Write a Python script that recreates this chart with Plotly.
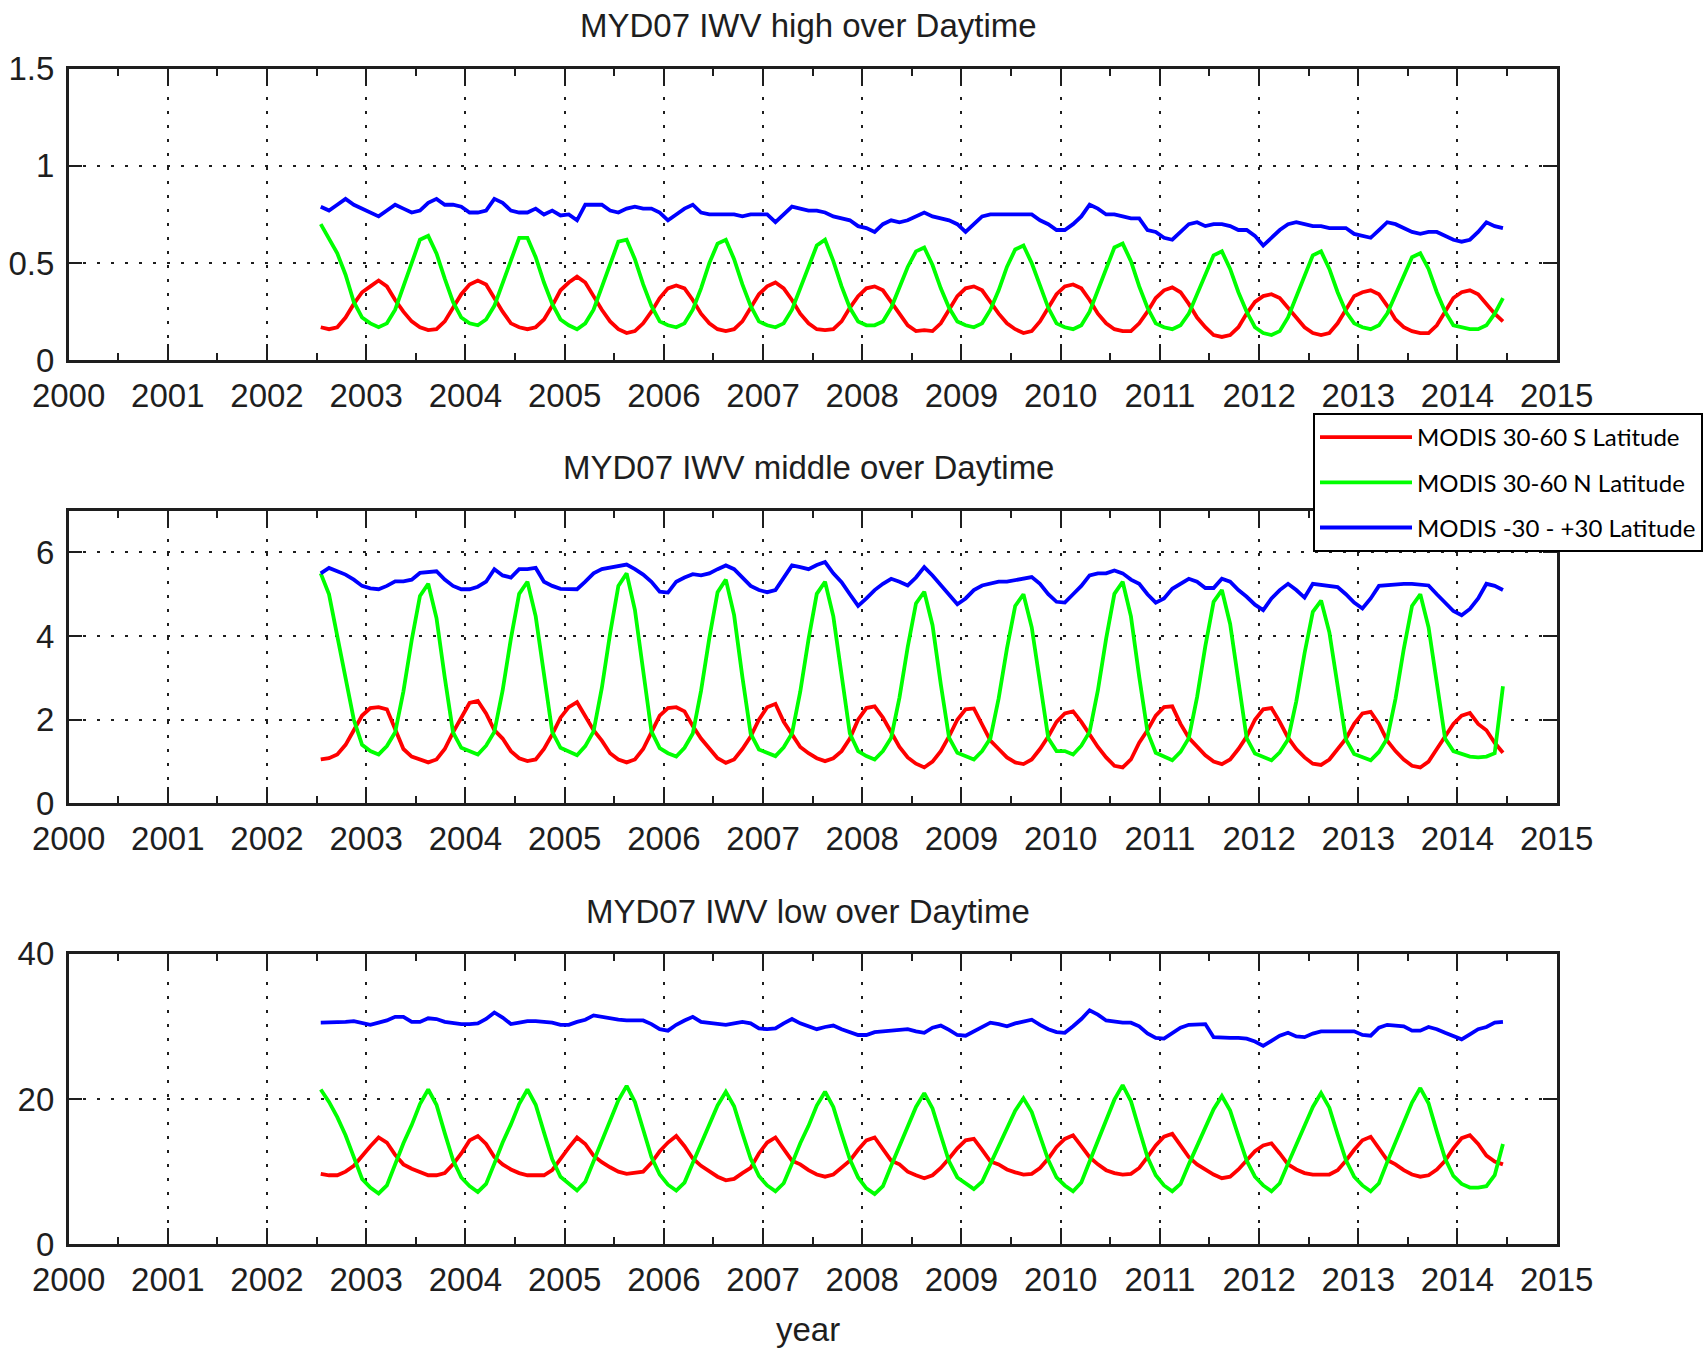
import plotly.graph_objects as go

# ---------------- data ----------------
# monthly means, Jul 2002 .. Jun 2014 (decimal year at mid-month)
START_YEAR, START_MONTH, N_MONTHS = 2002, 7, 144
months = [START_YEAR + (START_MONTH - 1 + i + 0.5) / 12 for i in range(N_MONTHS)]

series_names = ["MODIS 30-60 S Latitude", "MODIS 30-60 N Latitude", "MODIS -30 - +30 Latitude"]
series_colors = ["#ff0000", "#00ff00", "#0000ff"]
panel_titles = ["MYD07 IWV high over Daytime", "MYD07 IWV middle over Daytime", "MYD07 IWV low over Daytime"]
year_ticks = list(range(2000, 2016))

# ---- high ----
high_south = [
    0.17, 0.16, 0.17, 0.22, 0.29, 0.35,
    0.38, 0.41, 0.38, 0.31, 0.25, 0.20, 0.17, 0.155, 0.16, 0.20, 0.27, 0.34,
    0.39, 0.41, 0.39, 0.32, 0.25, 0.19, 0.17, 0.16, 0.17, 0.21, 0.28, 0.36,
    0.40, 0.43, 0.40, 0.33, 0.26, 0.20, 0.16, 0.14, 0.15, 0.19, 0.25, 0.32,
    0.37, 0.385, 0.37, 0.31, 0.24, 0.19, 0.16, 0.15, 0.16, 0.20, 0.27, 0.34,
    0.38, 0.40, 0.37, 0.31, 0.24, 0.19, 0.16, 0.155, 0.16, 0.20, 0.27, 0.33,
    0.37, 0.38, 0.36, 0.30, 0.24, 0.18, 0.15, 0.155, 0.15, 0.19, 0.26, 0.33,
    0.37, 0.38, 0.36, 0.30, 0.24, 0.19, 0.16, 0.14, 0.15, 0.20, 0.27, 0.34,
    0.38, 0.39, 0.37, 0.31, 0.24, 0.19, 0.16, 0.15, 0.15, 0.19, 0.25, 0.32,
    0.36, 0.375, 0.35, 0.29, 0.22, 0.17, 0.13, 0.12, 0.13, 0.17, 0.24, 0.30,
    0.33, 0.34, 0.32, 0.27, 0.22, 0.17, 0.14, 0.13, 0.14, 0.19, 0.26, 0.33,
    0.35, 0.36, 0.34, 0.28, 0.21, 0.17, 0.15, 0.14, 0.14, 0.18, 0.25, 0.32,
    0.35, 0.36, 0.34, 0.29, 0.24, 0.20,
]
high_north = [
    0.70, 0.62, 0.55, 0.44, 0.30, 0.22,
    0.19, 0.17, 0.19, 0.26, 0.38, 0.51, 0.62, 0.64, 0.55, 0.42, 0.30, 0.22,
    0.19, 0.18, 0.21, 0.28, 0.40, 0.52, 0.63, 0.63, 0.53, 0.40, 0.29, 0.21,
    0.18, 0.16, 0.19, 0.26, 0.38, 0.50, 0.61, 0.62, 0.52, 0.39, 0.28, 0.20,
    0.18, 0.17, 0.19, 0.26, 0.37, 0.50, 0.60, 0.62, 0.52, 0.39, 0.28, 0.20,
    0.18, 0.17, 0.19, 0.26, 0.37, 0.49, 0.59, 0.62, 0.51, 0.38, 0.27, 0.20,
    0.18, 0.18, 0.20, 0.27, 0.37, 0.48, 0.56, 0.58, 0.49, 0.37, 0.27, 0.20,
    0.18, 0.17, 0.19, 0.26, 0.36, 0.48, 0.57, 0.59, 0.50, 0.38, 0.27, 0.19,
    0.17, 0.16, 0.18, 0.25, 0.36, 0.48, 0.58, 0.60, 0.51, 0.38, 0.27, 0.19,
    0.17, 0.16, 0.18, 0.24, 0.34, 0.45, 0.54, 0.56, 0.47, 0.35, 0.25, 0.17,
    0.14, 0.13, 0.15, 0.22, 0.33, 0.44, 0.54, 0.56, 0.47, 0.35, 0.25, 0.19,
    0.17, 0.16, 0.18, 0.24, 0.34, 0.44, 0.53, 0.55, 0.47, 0.35, 0.25, 0.18,
    0.17, 0.16, 0.16, 0.18, 0.24, 0.32,
]
high_tropics = [
    0.79, 0.77, 0.80, 0.83, 0.80, 0.78,
    0.76, 0.74, 0.77, 0.80, 0.78, 0.76, 0.77, 0.81, 0.83, 0.80, 0.80, 0.79,
    0.76, 0.76, 0.77, 0.83, 0.81, 0.77, 0.76, 0.76, 0.78, 0.75, 0.77, 0.745,
    0.75, 0.72, 0.80, 0.80, 0.80, 0.77, 0.76, 0.78, 0.79, 0.78, 0.78, 0.76,
    0.72, 0.75, 0.78, 0.80, 0.76, 0.75, 0.75, 0.75, 0.75, 0.74, 0.75, 0.75,
    0.75, 0.71, 0.75, 0.79, 0.78, 0.77, 0.77, 0.76, 0.74, 0.73, 0.72, 0.69,
    0.68, 0.66, 0.70, 0.72, 0.71, 0.72, 0.74, 0.76, 0.74, 0.73, 0.72, 0.70,
    0.66, 0.70, 0.74, 0.75, 0.75, 0.75, 0.75, 0.75, 0.75, 0.72, 0.70, 0.67,
    0.67, 0.70, 0.74, 0.80, 0.78, 0.75, 0.75, 0.74, 0.73, 0.73, 0.67, 0.66,
    0.63, 0.62, 0.66, 0.70, 0.71, 0.69, 0.70, 0.70, 0.69, 0.67, 0.67, 0.64,
    0.59, 0.63, 0.67, 0.70, 0.71, 0.70, 0.69, 0.69, 0.68, 0.68, 0.68, 0.65,
    0.64, 0.63, 0.67, 0.71, 0.70, 0.68, 0.66, 0.65, 0.66, 0.66, 0.64, 0.62,
    0.61, 0.62, 0.66, 0.71, 0.69, 0.68,
]

# ---- middle ----
middle_south = [
    1.05, 1.08, 1.17, 1.40, 1.75, 2.10,
    2.28, 2.30, 2.25, 1.75, 1.30, 1.12, 1.05, 0.98, 1.05, 1.30, 1.70, 2.05,
    2.40, 2.45, 2.15, 1.75, 1.55, 1.25, 1.08, 1.01, 1.05, 1.30, 1.65, 2.05,
    2.30, 2.42, 2.10, 1.75, 1.50, 1.20, 1.05, 0.98, 1.05, 1.30, 1.70, 2.10,
    2.28, 2.30, 2.20, 1.85, 1.55, 1.30, 1.08, 0.97, 1.05, 1.30, 1.60, 2.00,
    2.30, 2.38, 1.95, 1.65, 1.35, 1.20, 1.08, 1.01, 1.08, 1.25, 1.55, 2.00,
    2.28, 2.32, 2.05, 1.70, 1.35, 1.10, 0.95, 0.86, 1.00, 1.25, 1.60, 2.00,
    2.25, 2.27, 1.90, 1.50, 1.30, 1.10, 0.98, 0.94, 1.05, 1.30, 1.60, 1.95,
    2.15, 2.20, 1.95, 1.65, 1.35, 1.10, 0.90, 0.86, 1.05, 1.45, 1.75, 2.10,
    2.30, 2.32, 1.90, 1.57, 1.35, 1.15, 1.00, 0.94, 1.05, 1.30, 1.60, 2.00,
    2.25, 2.28, 1.95, 1.57, 1.30, 1.10, 0.95, 0.92, 1.05, 1.30, 1.55, 1.90,
    2.15, 2.19, 1.90, 1.50, 1.25, 1.05, 0.90, 0.86, 1.00, 1.30, 1.60, 1.90,
    2.10, 2.16, 1.90, 1.75, 1.45, 1.21,
]
middle_north = [
    5.50, 5.00, 4.00, 3.00, 2.00, 1.40,
    1.25, 1.17, 1.37, 1.70, 2.68, 3.90, 4.96, 5.25, 4.43, 3.01, 1.70, 1.33,
    1.25, 1.17, 1.38, 1.71, 2.70, 3.94, 5.01, 5.30, 4.47, 3.03, 1.71, 1.33,
    1.24, 1.15, 1.37, 1.72, 2.76, 4.06, 5.20, 5.50, 4.63, 3.11, 1.72, 1.32,
    1.20, 1.12, 1.33, 1.67, 2.69, 3.95, 5.05, 5.35, 4.50, 3.02, 1.67, 1.29,
    1.21, 1.13, 1.34, 1.67, 2.67, 3.92, 5.01, 5.30, 4.47, 3.01, 1.67, 1.25,
    1.13, 1.05, 1.25, 1.57, 2.53, 3.74, 4.78, 5.06, 4.26, 2.85, 1.57, 1.21,
    1.13, 1.05, 1.25, 1.56, 2.51, 3.70, 4.72, 5.00, 4.21, 2.83, 1.56, 1.25,
    1.25, 1.17, 1.38, 1.71, 2.70, 3.94, 5.01, 5.30, 4.47, 3.03, 1.71, 1.21,
    1.11, 1.03, 1.23, 1.56, 2.54, 3.76, 4.82, 5.10, 4.29, 2.86, 1.56, 1.19,
    1.11, 1.03, 1.22, 1.53, 2.44, 3.59, 4.58, 4.85, 4.09, 2.75, 1.53, 1.18,
    1.11, 1.03, 1.23, 1.55, 2.50, 3.69, 4.72, 5.00, 4.21, 2.82, 1.55, 1.25,
    1.18, 1.12, 1.10, 1.12, 1.20, 2.80,
]
middle_tropics = [
    5.50, 5.63, 5.55, 5.47, 5.35, 5.20,
    5.14, 5.12, 5.20, 5.31, 5.31, 5.35, 5.51, 5.53, 5.55, 5.35, 5.20, 5.12,
    5.12, 5.18, 5.30, 5.60, 5.45, 5.40, 5.60, 5.60, 5.63, 5.30, 5.20, 5.13,
    5.12, 5.12, 5.30, 5.50, 5.60, 5.63, 5.68, 5.71, 5.60, 5.47, 5.30, 5.06,
    5.04, 5.30, 5.40, 5.48, 5.45, 5.50, 5.60, 5.69, 5.60, 5.40, 5.20, 5.10,
    5.05, 5.10, 5.40, 5.69, 5.65, 5.60, 5.70, 5.77, 5.50, 5.29, 5.00, 4.72,
    4.90, 5.10, 5.25, 5.37, 5.30, 5.21, 5.40, 5.65, 5.45, 5.21, 5.00, 4.76,
    4.90, 5.10, 5.21, 5.25, 5.30, 5.30, 5.33, 5.38, 5.41, 5.25, 5.00, 4.82,
    4.80, 5.00, 5.20, 5.45, 5.50, 5.50, 5.57, 5.50, 5.35, 5.25, 5.00, 4.80,
    4.90, 5.13, 5.25, 5.37, 5.30, 5.15, 5.15, 5.37, 5.30, 5.10, 4.94, 4.75,
    4.62, 4.90, 5.10, 5.25, 5.10, 4.92, 5.25, 5.22, 5.20, 5.17, 5.00, 4.80,
    4.66, 4.90, 5.20, 5.22, 5.23, 5.25, 5.25, 5.23, 5.21, 5.00, 4.80, 4.60,
    4.50, 4.65, 4.90, 5.25, 5.20, 5.10,
]

# ---- low ----
low_south = [
    9.7, 9.5, 9.5, 10.0, 10.8, 12.2,
    13.5, 14.7, 14.0, 12.3, 11.0, 10.4, 9.9, 9.5, 9.5, 9.8, 11.0, 12.5,
    14.3, 14.9, 13.8, 12.0, 11.0, 10.3, 9.8, 9.5, 9.5, 9.5, 10.2, 11.8,
    13.3, 14.7, 13.8, 12.2, 11.3, 10.6, 10.0, 9.7, 9.8, 10.0, 11.2, 12.8,
    14.0, 14.9, 13.5, 11.8, 10.8, 10.0, 9.3, 8.8, 9.0, 9.8, 10.5, 12.5,
    14.0, 14.7, 13.0, 11.5, 11.0, 10.2, 9.6, 9.3, 9.6, 10.5, 11.5, 13.0,
    14.3, 14.7, 13.0, 11.5, 11.0, 10.0, 9.5, 9.1, 9.5, 10.5, 11.8, 13.2,
    14.3, 14.5, 13.0, 11.4, 11.0, 10.3, 9.9, 9.6, 9.7, 10.5, 11.8, 13.4,
    14.5, 15.0, 13.5, 12.0, 11.0, 10.2, 9.8, 9.6, 9.7, 10.5, 12.0, 13.6,
    14.8, 15.2, 13.6, 12.0, 11.0, 10.3, 9.6, 9.1, 9.3, 10.3, 11.5, 12.8,
    13.6, 13.9, 12.5, 11.0, 10.3, 9.8, 9.6, 9.6, 9.6, 10.2, 11.5, 13.0,
    14.3, 14.8, 13.3, 11.6, 11.0, 10.2, 9.6, 9.3, 9.5, 10.3, 11.5, 13.2,
    14.6, 15.0, 13.8, 12.2, 11.4, 11.0,
]
low_north = [
    21.3, 19.6, 17.5, 15.0, 12.0, 9.0,
    7.8, 7.0, 8.1, 11.0, 13.9, 16.4, 19.3, 21.3, 19.2, 15.3, 11.6, 9.2,
    8.0, 7.2, 8.3, 11.1, 14.0, 16.5, 19.3, 21.3, 19.2, 15.4, 11.7, 9.3,
    8.3, 7.4, 8.6, 11.4, 14.3, 16.9, 19.8, 21.8, 19.6, 15.8, 12.0, 9.6,
    8.2, 7.4, 8.5, 11.2, 13.9, 16.4, 19.1, 21.0, 19.0, 15.3, 11.8, 9.4,
    8.1, 7.3, 8.4, 11.1, 13.9, 16.3, 19.1, 21.0, 18.9, 15.2, 11.7, 9.2,
    7.7, 6.9, 8.0, 10.8, 13.6, 16.1, 18.9, 20.8, 18.7, 15.0, 11.4, 9.2,
    8.4, 7.6, 8.6, 11.1, 13.6, 15.9, 18.4, 20.1, 18.2, 14.9, 11.6, 9.2,
    8.1, 7.3, 8.5, 11.4, 14.3, 16.9, 19.9, 21.9, 19.7, 15.8, 12.0, 9.5,
    8.1, 7.3, 8.3, 11.0, 13.6, 16.0, 18.6, 20.4, 18.4, 14.9, 11.5, 9.3,
    8.1, 7.3, 8.4, 11.1, 13.8, 16.2, 18.9, 20.8, 18.8, 15.1, 11.6, 9.3,
    8.1, 7.3, 8.4, 11.3, 14.1, 16.7, 19.5, 21.5, 19.4, 15.5, 11.8, 9.4,
    8.3, 7.8, 7.8, 8.0, 9.5, 13.8,
]
low_tropics = [
    30.5, 30.5, 30.5, 30.6, 30.7, 30.5,
    30.2, 30.5, 30.8, 31.3, 31.3, 30.6, 30.6, 31.1, 31.0, 30.6, 30.4, 30.3,
    30.3, 30.4, 31.0, 31.9, 31.2, 30.3, 30.5, 30.7, 30.7, 30.6, 30.5, 30.2,
    30.2, 30.6, 30.9, 31.5, 31.3, 31.0, 30.9, 30.8, 30.8, 30.8, 30.3, 29.6,
    29.4, 30.2, 30.8, 31.3, 30.6, 30.5, 30.3, 30.2, 30.4, 30.6, 30.4, 29.7,
    29.6, 29.7, 30.4, 31.0, 30.4, 30.0, 29.6, 29.9, 30.1, 29.6, 29.2, 28.8,
    28.8, 29.2, 29.3, 29.4, 29.5, 29.6, 29.3, 29.1, 29.8, 30.1, 29.5, 28.8,
    28.7, 29.3, 29.9, 30.5, 30.3, 30.0, 30.4, 30.6, 30.9, 30.2, 29.6, 29.2,
    29.1, 30.0, 31.0, 32.2, 31.6, 30.8, 30.6, 30.5, 30.5, 30.0, 29.0, 28.4,
    28.3, 29.0, 29.8, 30.2, 30.3, 30.3, 28.5, 28.4, 28.4, 28.4, 28.3, 27.9,
    27.3, 28.0, 28.7, 29.1, 28.6, 28.5, 29.0, 29.3, 29.3, 29.3, 29.3, 29.3,
    28.8, 28.7, 29.8, 30.2, 30.1, 30.0, 29.4, 29.4, 29.9, 29.6, 29.1, 28.6,
    28.2, 28.9, 29.6, 29.9, 30.5, 30.6,
]

panels = [
    (high_south, high_north, high_tropics),
    (middle_south, middle_north, middle_tropics),
    (low_south, low_north, low_tropics),
]
y_ranges = [[0, 1.5], [0, 7], [0, 40]]
y_dticks = [0.5, 2, 20]

# ---------------- layout geometry ----------------
W, H = 1707, 1349
X0, X1 = 68.6 / W, 1556.7 / W
panel_px = [(68.6, 360.3), (510.6, 803.4), (953.6, 1244.3)]
title_px = [25, 468, 911]
INK = "#1e1e1e"
TICK_FONT = dict(family="Liberation Sans, Arial, sans-serif", size=33, color=INK)

fig = go.Figure()
for p, series in enumerate(panels):
    ax = "" if p == 0 else str(p + 1)
    for name, color, vals in zip(series_names, series_colors, series):
        fig.add_trace(go.Scatter(
            x=months, y=vals, mode="lines", name=name,
            line=dict(color=color, width=3.8),
            legendgroup=name, showlegend=(p == 0),
            xaxis="x" + ax, yaxis="y" + ax,
        ))

layout = dict(
    width=W, height=H, margin=dict(l=0, r=0, t=0, b=0),
    paper_bgcolor="white", plot_bgcolor="white",
    font=TICK_FONT,
    legend=dict(
        x=1313 / W, y=1 - 413 / H, xanchor="left", yanchor="top",
        bgcolor="white", bordercolor="black", borderwidth=2,
        font=dict(family="Lato, Noto Sans, sans-serif", size=24, color="black"),
        traceorder="grouped", tracegroupgap=11, itemwidth=92,
    ),
    annotations=[],
)
for p in range(3):
    ax = "" if p == 0 else str(p + 1)
    top, bot = panel_px[p]
    layout["xaxis" + ax] = dict(
        domain=[X0, X1], anchor="y" + ax, range=[2000, 2015],
        tickmode="array", tickvals=year_ticks, ticktext=[str(v) for v in year_ticks],
        ticks="inside", ticklen=17, tickwidth=2, tickcolor=INK,
        showline=True, linecolor=INK, linewidth=2.5, mirror="ticks",
        showgrid=True, gridcolor=INK, gridwidth=2, griddash="3px,11px",
        zeroline=False, tickfont=TICK_FONT, automargin=False, ticklabelstandoff=4,
        minor=dict(dtick=0.5, tick0=2000, ticks="inside", ticklen=8, tickwidth=2,
                   tickcolor=INK, showgrid=False),
    )
    layout["yaxis" + ax] = dict(
        domain=[1 - bot / H, 1 - top / H], anchor="x" + ax,
        range=y_ranges[p], dtick=y_dticks[p], tick0=0,
        ticks="inside", ticklen=14, tickwidth=2, tickcolor=INK,
        showline=True, linecolor=INK, linewidth=2.5, mirror="ticks",
        showgrid=True, gridcolor=INK, gridwidth=2, griddash="3px,11px",
        zeroline=False, tickfont=TICK_FONT, automargin=False, ticklabelstandoff=5,
    )
    layout["annotations"].append(dict(
        text=panel_titles[p], xref="paper", yref="paper",
        x=808 / W, y=1 - title_px[p] / H, xanchor="center", yanchor="middle",
        showarrow=False, font=dict(family="Liberation Sans, Arial, sans-serif", size=33, color=INK),
    ))
layout["annotations"].append(dict(
    text="year", xref="paper", yref="paper", x=808 / W, y=1 - 1329 / H,
    xanchor="center", yanchor="middle", showarrow=False,
    font=dict(family="Liberation Sans, Arial, sans-serif", size=33, color=INK),
))

fig.update_layout(**layout)
fig.write_html(
    "out.html",
    config={"displayModeBar": False},
    post_script="document.body.style.margin='0';document.body.style.overflow='hidden';",
)
